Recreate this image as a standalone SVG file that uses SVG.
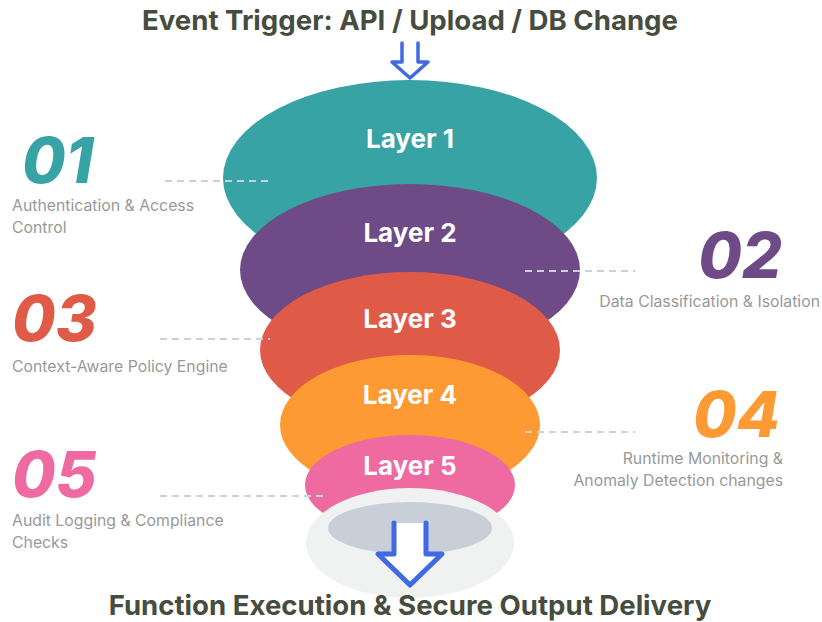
<svg xmlns="http://www.w3.org/2000/svg" width="822" height="622" viewBox="0 0 822 622">
<style>
.title{font-family:Inter,"Liberation Sans",sans-serif;font-weight:700;font-size:27.6px;fill:#464d3f;text-anchor:middle}
.layer{font-family:Inter,"Liberation Sans",sans-serif;font-weight:700;font-size:26px;fill:#fff;text-anchor:middle}
.num{font-family:Inter,"Liberation Sans",sans-serif;font-weight:800;font-style:italic;font-size:63px}
.desc{font-family:Inter,"Liberation Sans",sans-serif;font-size:15.8px;fill:#999}
.dash{stroke:#c9d1da;stroke-width:2;stroke-dasharray:7 5;fill:none}
.arrow{stroke:#4169e1;fill:#fff;stroke-linecap:round;stroke-linejoin:round}
</style>
<rect width="822" height="622" fill="#fff"/>
<text class="title" x="410" y="30">Event Trigger: API / Upload / DB Change</text>
<g id="layer1"><ellipse cx="410" cy="178" rx="187" ry="98" fill="#37a3a5"/><text class="layer" x="410" y="148">Layer 1</text></g>
<g id="layer2"><ellipse cx="410" cy="270" rx="170" ry="86" fill="#6e4b86"/><text class="layer" x="410" y="242">Layer 2</text></g>
<g id="layer3"><ellipse cx="410" cy="350" rx="150" ry="78" fill="#e05a48"/><text class="layer" x="410" y="328">Layer 3</text></g>
<g id="layer4"><ellipse cx="410" cy="425" rx="130" ry="70" fill="#fd9a33"/><text class="layer" x="410" y="404">Layer 4</text></g>
<g id="layer5"><ellipse cx="410" cy="485" rx="105" ry="50" fill="#ee6aa1"/><text class="layer" x="410" y="475">Layer 5</text></g>
<g id="output">
<ellipse cx="410" cy="543" rx="104" ry="55" fill="#f0f1f1"/>
<ellipse cx="410" cy="528" rx="82" ry="26" fill="#c8cfd8"/>
</g>
<g id="connectors">
<path class="arrow" stroke-width="3.5" d="M402,43 V62 H392 L410,78 L428,62 H418 V43"/>
<path class="arrow" stroke-width="5" d="M394,523 V554 H378 L410,585 L442,554 H426 V523"/>
<line class="dash" x1="165" y1="181" x2="270" y2="181"/>
<line class="dash" x1="525" y1="271" x2="635" y2="271"/>
<line class="dash" x1="160" y1="339" x2="270" y2="339"/>
<line class="dash" x1="525" y1="432" x2="635" y2="432"/>
<line class="dash" x1="160" y1="496" x2="325" y2="496"/>
</g>
<g id="item1"><text class="num" x="22" y="183" fill="#37a3a5">01</text><text class="desc" x="12" y="211">Authentication &amp; Access</text><text class="desc" x="12" y="233">Control</text></g>
<g id="item2"><text class="num" x="782" y="278" fill="#6e4b86" text-anchor="end">02</text><text class="desc" x="820" y="307" text-anchor="end">Data Classification &amp; Isolation</text></g>
<g id="item3"><text class="num" x="12" y="341" fill="#e05a48">03</text><text class="desc" x="12" y="372">Context-Aware Policy Engine</text></g>
<g id="item4"><text class="num" x="780" y="437" fill="#fd9a33" text-anchor="end">04</text><text class="desc" x="783" y="464" text-anchor="end">Runtime Monitoring &amp;</text><text class="desc" x="783" y="486" text-anchor="end">Anomaly Detection changes</text></g>
<g id="item5"><text class="num" x="12" y="497" fill="#ee6aa1">05</text><text class="desc" x="12" y="526">Audit Logging &amp; Compliance</text><text class="desc" x="12" y="548">Checks</text></g>
<text class="title" x="410" y="615">Function Execution &amp; Secure Output Delivery</text>
</svg>
